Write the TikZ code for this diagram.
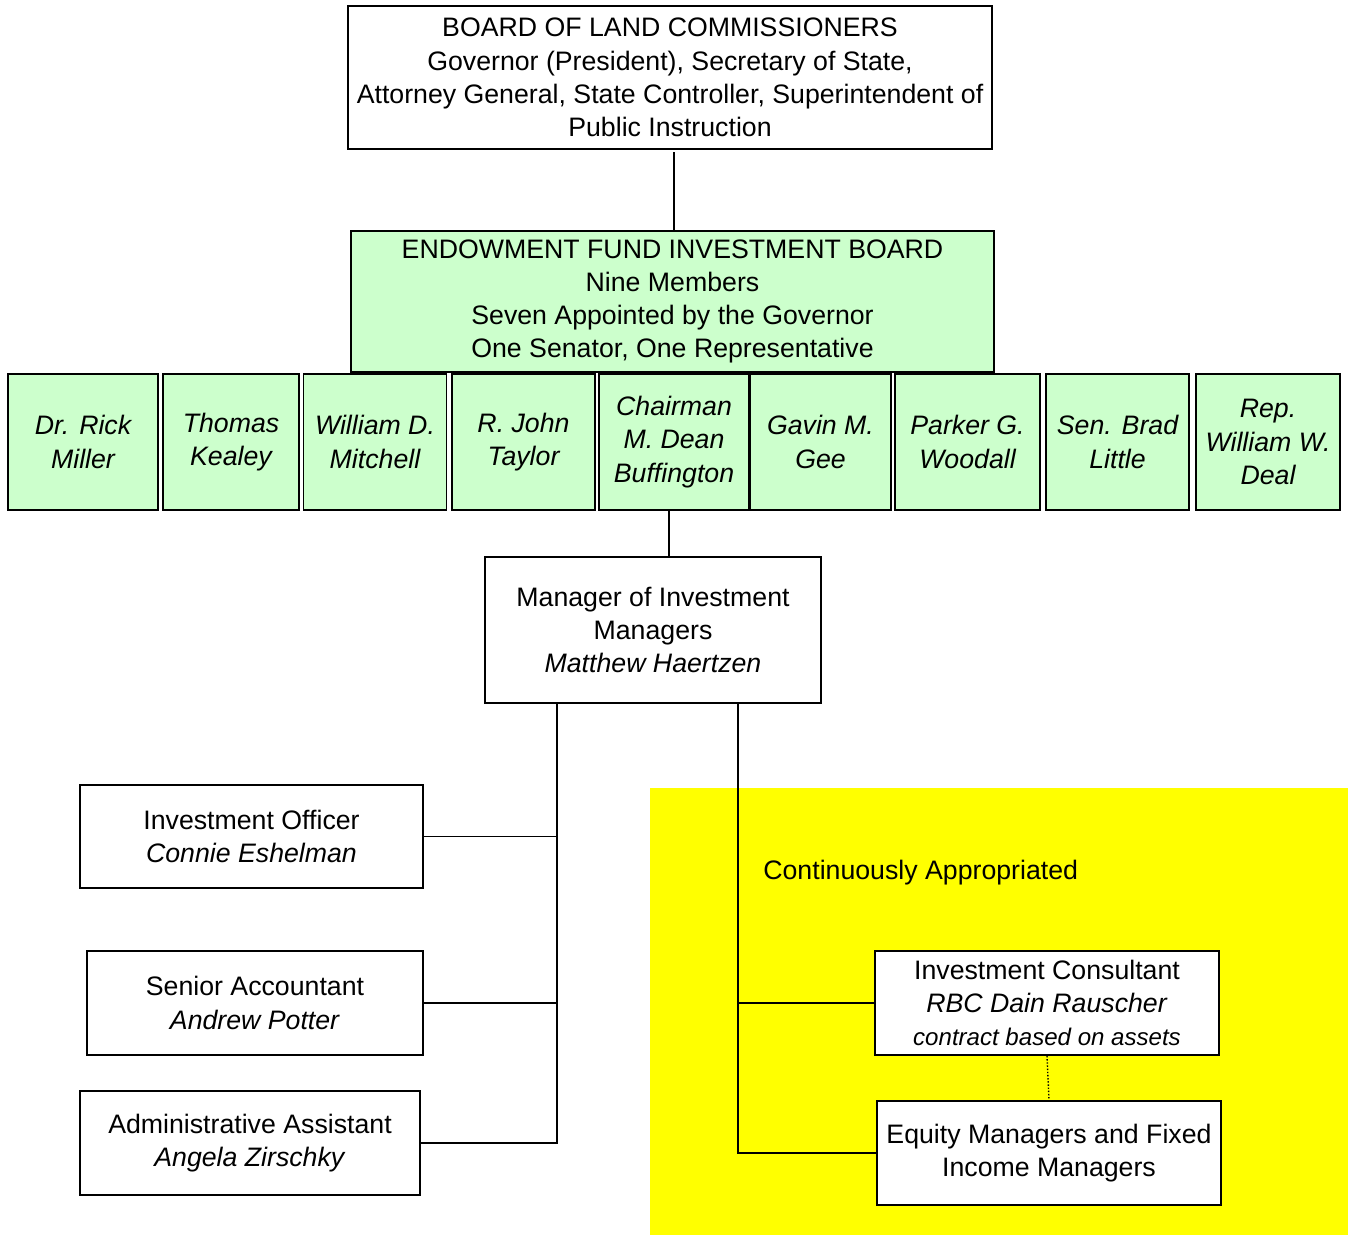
\documentclass[tikz,border=0pt]{standalone}
\usepackage{fontspec}
\setmainfont{Liberation Sans}
\usepackage{tikz}
\usetikzlibrary{positioning}

\definecolor{boardgreen}{HTML}{CCFFCC}
\definecolor{approp}{HTML}{FFFF00}

\tikzset{
	box/.style={draw=black, line width=1.1pt, inner sep=0pt, align=center,
		font=\fontsize{15.2}{18.9}\selectfont},
	member/.style={box, fill=boardgreen, minimum height=2.72cm,
		font=\fontsize{15.2}{18.9}\selectfont\itshape},
	link/.style={line width=1.1pt}
}

\begin{document}
\begin{tikzpicture}[x=0.02cm, y=-0.02cm]
	\useasboundingbox (0,0) rectangle (1348,1235);
	% continuously appropriated area
	\fill[approp] (650,788) rectangle (1348,1235);
	\node[anchor=west, inner sep=0pt, font=\fontsize{15.2}{18.9}\selectfont] (contapp) at (763,873) {Continuously Appropriated};

	\node[box, minimum width=12.88cm, minimum height=2.86cm] (land) at (670,77.5)
		{BOARD OF LAND COMMISSIONERS\\Governor (President), Secretary of State,\\Attorney General, State Controller, Superintendent of\\Public Instruction};
	\node[box, fill=boardgreen, minimum width=12.86cm, minimum height=2.82cm] (efib) at (672.5,301.5)
		{ENDOWMENT FUND INVESTMENT BOARD\\Nine Members\\Seven Appointed by the Governor\\One Senator, One Representative};

	% board members
	\node[member, minimum width=3.00cm] (miller) at (83,442) {Dr. Rick\\Miller};
	\node[member, minimum width=2.72cm] (kealey) at (231,442) {Thomas\\Kealey};
	\node[member, minimum width=2.86cm] (mitchell) at (375,442) {William D.\\Mitchell};
	\node[member, minimum width=2.86cm] (taylor) at (523.5,442) {R. John\\Taylor};
	\node[member, minimum width=3.00cm] (chair) at (674,442) {Chairman\\M. Dean\\Buffington};
	\node[member, minimum width=2.82cm] (gee) at (820.5,442) {Gavin M.\\Gee};
	\node[member, minimum width=2.90cm] (woodall) at (967.5,442) {Parker G.\\Woodall};
	\node[member, minimum width=2.86cm] (little) at (1117.5,442) {Sen. Brad\\Little};
	\node[member, minimum width=2.88cm] (deal) at (1268,442) {Rep.\\William W.\\Deal};

	\node[box, fill=white, minimum width=6.72cm, minimum height=2.92cm] (mgr) at (653,630)
		{Manager of Investment\\Managers\\\textit{Matthew Haertzen}};

	% staff
	\node[box, fill=white, minimum width=6.86cm, minimum height=2.06cm] (officer) at (251.5,836.5)
		{Investment Officer\\\textit{Connie Eshelman}};
	\node[box, fill=white, minimum width=6.72cm, minimum height=2.08cm] (acct) at (255,1003)
		{Senior Accountant\\\textit{Andrew Potter}};
	\node[box, fill=white, minimum width=6.80cm, minimum height=2.08cm] (admin) at (250,1143)
		{Administrative Assistant\\\textit{Angela Zirschky}};

	% outside managers
	\node[box, fill=white, minimum width=6.88cm, minimum height=2.08cm] (consult) at (1047,1003)
		{Investment Consultant\\\textit{RBC Dain Rauscher}\\{\fontsize{13.7}{17}\selectfont\itshape contract based on assets}};
	\node[box, fill=white, minimum width=6.88cm, minimum height=2.08cm] (equity) at (1049,1153)
		{Equity Managers and Fixed\\Income Managers};

	% connectors
	\coordinate (staff) at (557,703);
	\coordinate (outside) at (738,703);
	\draw[link] (674,152) -- (674,230);
	\draw[link] (669,510) -- (mgr.north -| 669,0);
	\draw[link] (staff) -- (staff |- admin.east) -- (admin.east);
	\draw[link] (officer.east) -- (officer.east -| staff);
	\draw[link] (acct.east) -- (acct.east -| staff);
	\draw[link] (outside) |- (equity.west);
	\draw[link] (consult.west) -- (consult.west -| outside);
	\draw[densely dotted, line width=0.8pt] (consult.south) -- (equity.north);
\end{tikzpicture}
\end{document}
